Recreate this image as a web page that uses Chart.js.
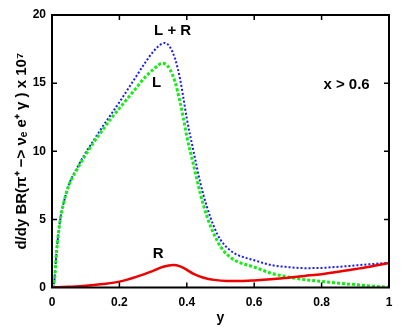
<!DOCTYPE html>
<html><head><meta charset="utf-8">
<script src="https://cdn.jsdelivr.net/npm/chart.js@4.4.0/dist/chart.umd.min.js"></script>
<style>html,body{margin:0;padding:0;background:#fff;}canvas{display:block;}</style>
</head><body>
<canvas id="c" width="409" height="327"></canvas>
<script>
const xTicks = [0, 0.2, 0.4, 0.6, 0.8, 1];
const yTicks = [0, 5, 10, 15, 20];

const lrX = [0, 0.006, 0.014, 0.024, 0.034, 0.05, 0.075, 0.1, 0.125, 0.15, 0.175, 0.2, 0.225, 0.25, 0.275, 0.3, 0.32, 0.335, 0.35, 0.365, 0.38, 0.39, 0.4, 0.42, 0.44, 0.46, 0.48, 0.5, 0.525, 0.55, 0.6, 0.65, 0.7, 0.75, 0.8, 0.85, 0.9, 0.95, 1.0];
const lrY = [0, 0.3, 2.75, 4.9, 6.15, 7.55, 8.8, 9.9, 10.85, 11.8, 12.7, 13.6, 14.55, 15.5, 16.45, 17.3, 17.8, 17.95, 17.65, 16.8, 15.3, 13.9, 12.4, 10.0, 7.7, 5.9, 4.5, 3.5, 2.8, 2.4, 2.0, 1.65, 1.5, 1.42, 1.44, 1.52, 1.62, 1.72, 1.82];

const lX = [0, 0.006, 0.014, 0.024, 0.034, 0.05, 0.075, 0.1, 0.125, 0.15, 0.175, 0.2, 0.225, 0.25, 0.275, 0.3, 0.315, 0.325, 0.34, 0.35, 0.365, 0.38, 0.39, 0.4, 0.42, 0.44, 0.46, 0.48, 0.5, 0.525, 0.55, 0.6, 0.65, 0.7, 0.75, 0.8, 0.85, 0.9, 0.95, 1.0];
const lY = [0, 0.3, 2.75, 4.9, 6.15, 7.5, 8.7, 9.75, 10.7, 11.55, 12.4, 13.15, 13.9, 14.65, 15.4, 16.0, 16.3, 16.46, 16.35, 16.0, 15.1, 13.6, 12.4, 11.1, 9.0, 6.9, 5.2, 3.95, 3.0, 2.3, 1.9, 1.5, 1.05, 0.78, 0.57, 0.45, 0.32, 0.21, 0.1, 0.02];

const rX = [0, 0.05, 0.1, 0.15, 0.2, 0.25, 0.3, 0.33, 0.36, 0.38, 0.4, 0.42, 0.45, 0.48, 0.52, 0.56, 0.6, 0.65, 0.7, 0.75, 0.8, 0.85, 0.9, 0.95, 1.0];
const rY = [0, 0.05, 0.12, 0.25, 0.43, 0.78, 1.22, 1.52, 1.65, 1.55, 1.3, 1.0, 0.72, 0.56, 0.48, 0.48, 0.52, 0.6, 0.72, 0.85, 0.98, 1.15, 1.35, 1.56, 1.8];

const labels = [
  {text: 'L + R', x: 0.358, y: 18.8},
  {text: 'L', x: 0.31, y: 15.0},
  {text: 'R', x: 0.315, y: 2.5},
  {text: 'x > 0.6', x: 0.874, y: 14.85}
];

function pts(xs, ys){ return xs.map((x,i)=>({x:x, y:ys[i]})); }

const FONT = '"Liberation Sans", Arial, sans-serif';

const framePlugin = {
  id: 'frame',
  afterDraw(chart){
    const ctx = chart.ctx, a = chart.chartArea;
    const xs = chart.scales.x, ys = chart.scales.y;
    ctx.save();
    ctx.strokeStyle = '#000';
    ctx.lineWidth = 1.5;
    const tl = 5;
    ctx.beginPath();
    xTicks.forEach(v=>{
      const p = xs.getPixelForValue(v);
      if (v>0 && v<1){
        ctx.moveTo(p, a.bottom); ctx.lineTo(p, a.bottom - tl);
        ctx.moveTo(p, a.top); ctx.lineTo(p, a.top + tl);
      }
    });
    yTicks.forEach(v=>{
      const p = ys.getPixelForValue(v);
      if (v>0 && v<20){
        ctx.moveTo(a.left, p); ctx.lineTo(a.left + tl, p);
        ctx.moveTo(a.right, p); ctx.lineTo(a.right - tl, p);
      }
    });
    ctx.stroke();
    ctx.lineWidth = 2;
    ctx.strokeRect(a.left, a.top, a.right - a.left, a.bottom - a.top);
    ctx.fillStyle = '#000';
    ctx.font = 'bold 15px ' + FONT;
    ctx.textAlign = 'center';
    ctx.textBaseline = 'middle';
    labels.forEach(l=>{
      ctx.fillText(l.text, xs.getPixelForValue(l.x), ys.getPixelForValue(l.y));
    });
    ctx.restore();
  }
};

new Chart(document.getElementById('c'), {
  type: 'line',
  data: {
    datasets: [
      {label: 'R', data: pts(rX, rY), borderColor: '#ee0000', borderWidth: 2.5, pointRadius: 0, cubicInterpolationMode: 'monotone', fill: false},
      {label: 'L', data: pts(lX, lY), borderColor: '#11ee11', borderWidth: 3, borderDash: [3, 2], pointRadius: 0, cubicInterpolationMode: 'monotone', fill: false},
      {label: 'L + R', data: pts(lrX, lrY), borderColor: '#1a1aff', borderWidth: 2, borderDash: [2, 2], pointRadius: 0, cubicInterpolationMode: 'monotone', fill: false}
    ]
  },
  options: {
    responsive: false,
    animation: false,
    layout: {padding: {left: 0, right: 20, top: 15, bottom: 0}},
    plugins: {legend: {display: false}, tooltip: {enabled: false}},
    scales: {
      x: {
        type: 'linear', min: 0, max: 1,
        afterBuildTicks: s => { s.ticks = xTicks.map(v=>({value:v})); },
        ticks: {color: '#000', font: {family: FONT, size: 12, weight: 'bold'}, padding: 8, maxRotation: 0,
          callback: v => (v === 0 || v === 1) ? String(v) : v.toFixed(1)},
        grid: {display: false, drawTicks: false},
        border: {display: false},
        title: {display: true, text: 'y', color: '#000', font: {family: FONT, size: 14, weight: 'bold'}, padding: {top: 6, bottom: 0}},
        afterFit: s => { s.height = 39.5; }
      },
      y: {
        type: 'linear', min: 0, max: 20,
        afterBuildTicks: s => { s.ticks = yTicks.map(v=>({value:v})); },
        ticks: {color: '#000', font: {family: FONT, size: 12, weight: 'bold'}, padding: 6},
        grid: {display: false, drawTicks: false},
        border: {display: false},
        title: {display: true, text: 'd/dy BR(π⁺ −> νₑ e⁺ γ ) x 10⁷', color: '#000', font: {family: FONT, size: 15, weight: 'bold'}, padding: {top: 13, bottom: 0}},
        afterFit: s => { s.width = 52; }
      }
    }
  },
  plugins: [framePlugin]
});
</script>
</body></html>
